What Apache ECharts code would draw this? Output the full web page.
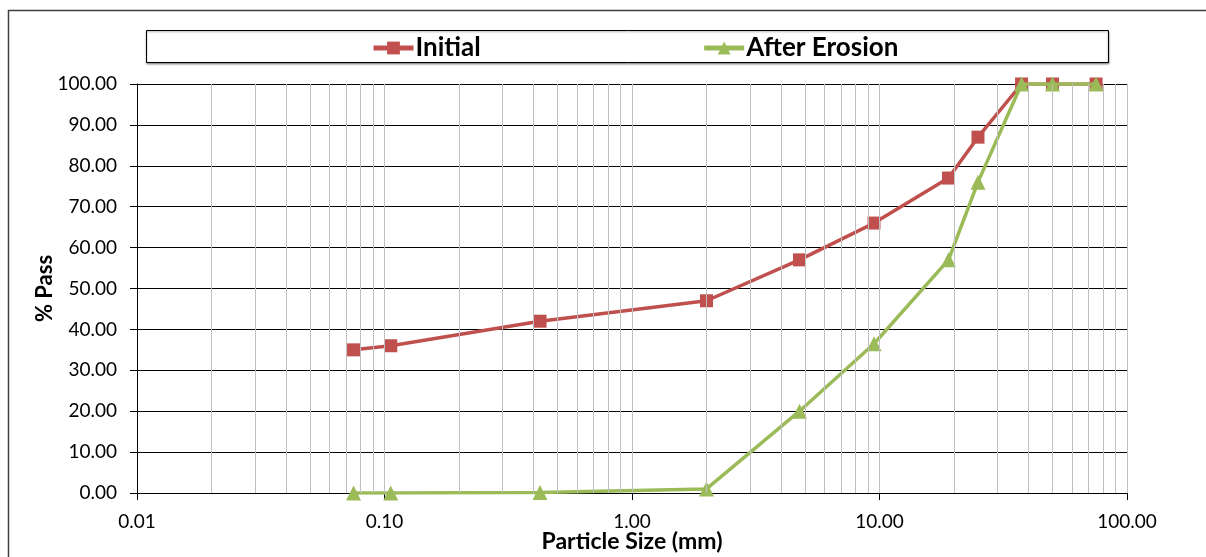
<!DOCTYPE html>
<html>
<head>
<meta charset="utf-8">
<script src="https://cdn.jsdelivr.net/npm/echarts@6/dist/echarts.min.js"></script>
<style>
  html, body { margin: 0; padding: 0; background: #fff; }
  #chart { width: 1206px; height: 557px; }
</style>
</head>
<body>
<div id="chart"></div>
<script>
let chart = echarts.init(document.getElementById('chart'));

// sieve sizes (mm) and % passing
let sizes = [0.075, 0.106, 0.425, 2.0, 4.75, 9.5, 19, 25, 37.5, 50, 75]
let initial = [35, 36, 42, 47, 57, 66, 77, 87, 100, 100, 100]
let afterErosion = [0, 0, 0.1, 1, 20, 36.5, 57, 76, 100, 100, 100]

// vertical grid lines of the log axis (2..9 in each decade, plus decades)
let gridLines = []
let decades = [0.01, 0.1, 1, 10]
decades.forEach(function (d) {
    for (let k = 2; k <= 10; k++) {
        gridLines.push({xAxis: +(d * k).toPrecision(3)})
    }
})

function pairs(ys) {
    return sizes.map(function (x, i) { return [x, ys[i]] })
}

let font = 'Lato, "Open Sans", sans-serif'

let option = {
    animation: false,
    backgroundColor: '#fff',
    textStyle: {fontFamily: font},
    graphic: [
        {
            type: 'rect', z: -1,
            shape: {x: 8.5, y: 10.5, width: 1220, height: 560},
            style: {fill: 'none', stroke: '#404040', lineWidth: 1.5}
        },
        {
            type: 'rect', z: -1,
            shape: {x: 146.5, y: 30.5, width: 962, height: 32},
            style: {fill: '#fff', stroke: '#000', lineWidth: 1,
                shadowColor: 'rgba(0,0,0,0.4)', shadowBlur: 2, shadowOffsetY: 1}
        }
    ],
    legend: {
        left: 366,
        top: 30,
        itemWidth: 40,
        itemHeight: 16,
        itemGap: 221,
        textStyle: {fontSize: 26, fontWeight: 'bold', color: '#000', fontFamily: font, padding: [0, 0, 0, -3]},
        data: [
            {name: 'Initial', lineStyle: {width: 5}},
            {name: 'After Erosion', lineStyle: {width: 5}}
        ]
    },
    grid: {left: 137, right: 79, top: 84, bottom: 64, outerBoundsMode: 'none'},
    xAxis: {
        type: 'log',
        logBase: 10,
        min: 0.01,
        max: 100,
        name: 'Particle Size (mm)',
        nameLocation: 'middle',
        nameGap: 37,
        nameMoveOverlap: false,
        nameTextStyle: {fontSize: 23, fontWeight: 'bold', color: '#000', fontFamily: font},
        axisLine: {lineStyle: {color: '#000', width: 1}},
        axisTick: {show: true, length: 7, lineStyle: {color: '#000'}},
        axisLabel: {
            fontSize: 19, color: '#000', margin: 19,
            formatter: function (v) { return v.toFixed(2) }
        },
        splitLine: {show: false},
        minorTick: {show: false},
        minorSplitLine: {show: false}
    },
    yAxis: {
        type: 'value',
        min: 0,
        max: 100,
        interval: 10,
        name: '% Pass',
        nameLocation: 'middle',
        nameGap: 81,
        nameMoveOverlap: false,
        nameTextStyle: {fontSize: 22, fontWeight: 'bold', color: '#000', fontFamily: font},
        axisLine: {show: true, lineStyle: {color: '#000', width: 1}},
        axisTick: {show: true, length: 7, lineStyle: {color: '#000'}},
        axisLabel: {
            fontSize: 19, color: '#000', margin: 20,
            formatter: function (v) { return v.toFixed(2) }
        },
        splitLine: {show: true, lineStyle: {color: '#000', width: 1}}
    },
    series: [
        {
            name: 'grid',
            type: 'line',
            data: [],
            z: 1,
            silent: true,
            markLine: {
                silent: true,
                symbol: 'none',
                label: {show: false},
                lineStyle: {color: '#bfbfbf', width: 1, type: 'solid'},
                data: gridLines
            }
        },
        {
            name: 'Initial',
            type: 'line',
            data: pairs(initial),
            z: 3,
            symbol: 'rect',
            symbolSize: 13,
            lineStyle: {color: '#c0504d', width: 3.5},
            itemStyle: {color: '#c0504d'}
        },
        {
            name: 'After Erosion',
            type: 'line',
            data: pairs(afterErosion),
            z: 4,
            symbol: 'triangle',
            symbolSize: 15,
            lineStyle: {color: '#9bbb59', width: 3.5},
            itemStyle: {color: '#9bbb59'}
        }
    ]
};
chart.setOption(option);
</script>
</body>
</html>
